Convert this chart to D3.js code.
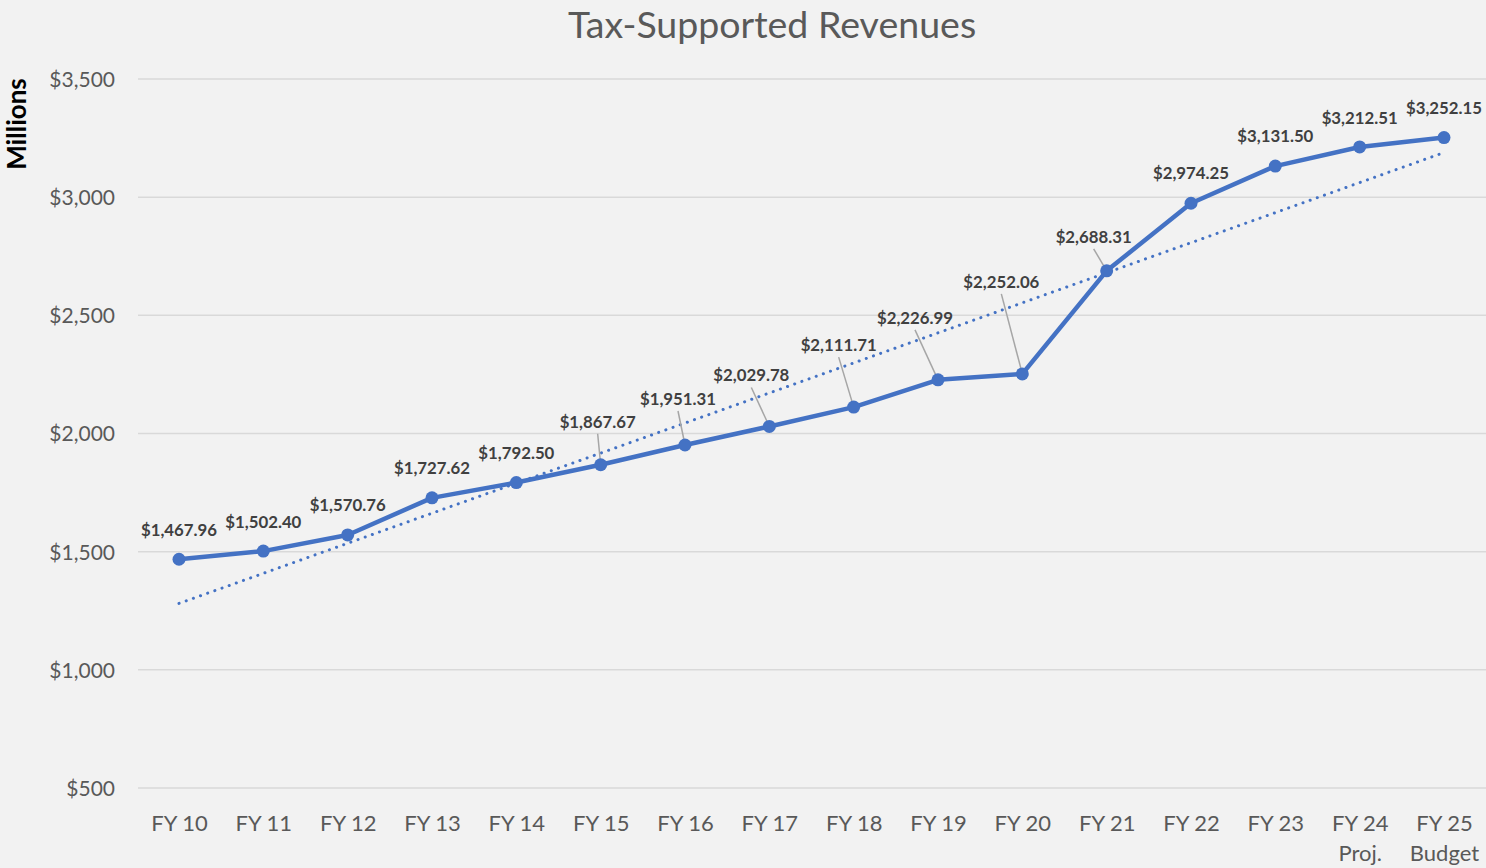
<!DOCTYPE html>
<html>
<head>
<meta charset="utf-8">
<script src="https://d3js.org/d3.v7.min.js"></script>
<style>
html,body{margin:0;padding:0;background:#f2f2f2;}
svg{display:block;}
</style>
</head>
<body>
<script>
const categories = ["FY 10","FY 11","FY 12","FY 13","FY 14","FY 15","FY 16","FY 17","FY 18","FY 19","FY 20","FY 21","FY 22","FY 23","FY 24","FY 25"];
const subLabels = ["","","","","","","","","","","","","","","Proj.","Budget"];
const revenues = [1467.96,1502.40,1570.76,1727.62,1792.50,1867.67,1951.31,2029.78,2111.71,2226.99,2252.06,2688.31,2974.25,3131.50,3212.51,3252.15];
const yTicks = [500,1000,1500,2000,2500,3000,3500];

// label placement (layout only): offset of label centre from its point
const labelOffsets = [[0,-29],[0,-29],[0,-30],[0,-30],[0,-29],[-3,-43],[-7,-46],[-18,-51],[-15,-62],[-23,-62],[-21,-92],[-13,-34],[0,-30],[0,-30],[0,-29],[0,-29]];
const leader = [false,false,false,false,false,true,true,true,true,true,true,true,false,false,false,false];

const W = 1486, H = 868;
const FONT = "Lato, 'Open Sans', sans-serif";
const svg = d3.select("body").append("svg").attr("width", W).attr("height", H);
svg.append("rect").attr("width", W).attr("height", H).attr("fill", "#f2f2f2");

const x = d3.scalePoint().domain(categories).range([179, 1444]);
const y = d3.scaleLinear().domain([500, 3500]).range([788, 79]);

const pts = revenues.map((v, i) => ({v, i, cx: x(categories[i]), cy: y(v)}));

// gridlines
svg.append("g").selectAll("line").data(yTicks).join("line")
  .attr("x1", 138).attr("x2", W)
  .attr("y1", d => y(d)).attr("y2", d => y(d))
  .attr("stroke", "#d9d9d9").attr("stroke-width", 1.5);

// y axis labels
const yAxis = d3.axisLeft(y).tickValues(yTicks).tickSize(0).tickPadding(0)
  .tickFormat(d => "$" + d3.format(",")(d));
const ya = svg.append("g").attr("transform", "translate(115,0)").call(yAxis);
ya.select(".domain").remove();
ya.selectAll("text").attr("font-family", FONT).attr("font-size", 21).attr("fill", "#595959").attr("dy", "0.35em");

// x axis labels
const xAxis = d3.axisBottom(x).tickSize(0).tickPadding(0);
const xa = svg.append("g").attr("transform", "translate(0,823)").call(xAxis);
xa.select(".domain").remove();
xa.selectAll("text").attr("font-family", FONT).attr("font-size", 22).attr("fill", "#595959").attr("dy", "0.35em");
xa.selectAll(".tick").append("text")
  .text((d, i) => subLabels[i])
  .attr("y", 30).attr("dy", "0.35em")
  .attr("text-anchor", "middle")
  .attr("font-family", FONT).attr("font-size", 22).attr("fill", "#595959");

// trendline (least-squares fit of the series)
const n = revenues.length;
const xm = d3.mean(revenues, (d, i) => i), ym = d3.mean(revenues);
const slope = d3.sum(revenues, (d, i) => (i - xm) * (d - ym)) / d3.sum(revenues, (d, i) => (i - xm) * (i - xm));
const icpt = ym - slope * xm;
svg.append("line")
  .attr("x1", x(categories[0])).attr("y1", y(icpt))
  .attr("x2", x(categories[n - 1])).attr("y2", y(icpt + slope * (n - 1)))
  .attr("stroke", "#4472c4").attr("stroke-width", 3)
  .attr("stroke-linecap", "round").attr("stroke-dasharray", "0.1 7.5");

// main line
const line = d3.line().x(d => d.cx).y(d => d.cy);
svg.append("path").datum(pts).attr("d", line)
  .attr("fill", "none").attr("stroke", "#4472c4").attr("stroke-width", 4.5)
  .attr("stroke-linejoin", "round");

// leader lines
svg.append("g").selectAll("line").data(pts.filter(p => leader[p.i])).join("line")
  .attr("x1", p => p.cx + labelOffsets[p.i][0])
  .attr("y1", p => p.cy + labelOffsets[p.i][1] + 12)
  .attr("x2", p => p.cx)
  .attr("y2", p => p.cy)
  .attr("stroke", "#a6a6a6").attr("stroke-width", 1.5);

// markers
svg.append("g").selectAll("circle").data(pts).join("circle")
  .attr("cx", p => p.cx).attr("cy", p => p.cy)
  .attr("r", 6.5).attr("fill", "#4472c4");

// data labels
svg.append("g").selectAll("text").data(pts).join("text")
  .attr("x", p => p.cx + labelOffsets[p.i][0])
  .attr("y", p => p.cy + labelOffsets[p.i][1])
  .attr("dy", "0.35em").attr("text-anchor", "middle")
  .attr("font-family", FONT).attr("font-size", 16.8).attr("font-weight", "bold").attr("fill", "#404040")
  .text(p => "$" + d3.format(",.2f")(p.v));

// title
svg.append("text").attr("x", 772).attr("y", 37.5)
  .attr("text-anchor", "middle").attr("font-family", FONT).attr("font-size", 37.5)
  .attr("fill", "#595959").text("Tax-Supported Revenues");

// y axis title
svg.append("text").attr("transform", "translate(17,124) rotate(-90)")
  .attr("dy", "0.35em").attr("text-anchor", "middle")
  .attr("font-family", FONT).attr("font-size", 26).attr("font-weight", "bold")
  .attr("fill", "#000").text("Millions");
</script>
</body>
</html>
